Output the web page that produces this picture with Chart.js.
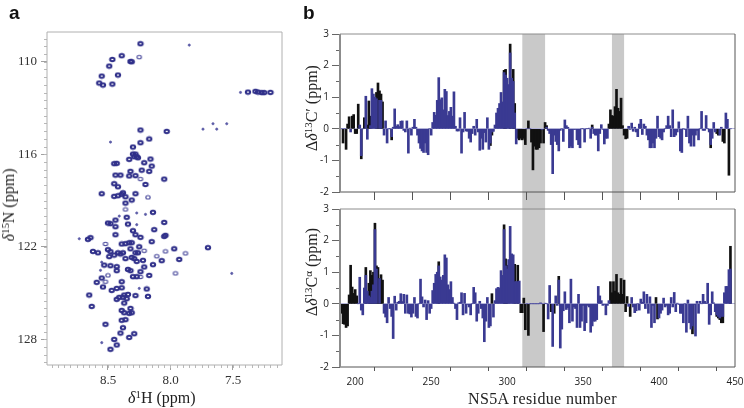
<!DOCTYPE html>
<html>
<head>
<meta charset="utf-8">
<script src="https://cdn.jsdelivr.net/npm/chart.js@4"></script>
<style>
  html, body { margin: 0; padding: 0; background: #fff; }
  body { width: 744px; height: 408px; position: relative; overflow: hidden; }
  canvas { position: absolute; display: block; }
  .txt { position: absolute; white-space: nowrap; font-family: "Liberation Serif", serif; color: #222; font-size: 16px; line-height: 1; }
  .txt sup { font-size: 0.68em; line-height: 0; vertical-align: 0.45em; }
  .rot { transform: translate(-50%, -50%) rotate(-90deg); }
  .letter { font-family: "Liberation Sans", sans-serif; font-weight: bold; font-size: 19px; color: #111; }
</style>
</head>
<body>
<canvas id="nmr" width="300" height="408" style="left:0;top:0"></canvas>
<canvas id="coChart" width="444" height="200" style="left:300px;top:0"></canvas>
<canvas id="caChart" width="444" height="208" style="left:300px;top:200px"></canvas>

<div class="txt letter" style="left:9px;top:3px">a</div>
<div class="txt letter" style="left:303px;top:3px">b</div>
<div class="txt rot" style="left:9px;top:205px"><i>δ</i><sup>15</sup>N (ppm)</div>
<div class="txt" style="left:128px;top:390px"><i>δ</i><sup>1</sup>H (ppm)</div>
<div class="txt rot" style="left:312px;top:108px">Δ<i>δ</i><sup>13</sup>C′ (ppm)</div>
<div class="txt rot" style="left:312px;top:272px">Δ<i>δ</i><sup>13</sup>C<sup>α</sup> (ppm)</div>
<div class="txt" style="left:468px;top:391px;letter-spacing:0.35px">NS5A residue number</div>

<script>
// spectrum peaks, 1H and 15N ppm
const strongH = [8.24,8.39,8.465,8.49,8.32,8.31,8.55,8.42,8.57,8.54,8.465,7.38,7.32,7.3,7.27,7.25,7.2,8.24,8.03,8.17,8.24,8.3,8.3,8.28,8.27,8.29,8.33,8.26,8.16,8.21,8.45,8.43,8.15,8.23,8.32,8.17,8.44,8.4,8.33,8.28,8.05,8.45,8.42,8.2,8.55,8.45,8.42,8.39,8.38,8.36,8.28,8.31,8.36,8.35,8.14,8.44,8.5,8.48,8.34,8.05,8.44,8.3,8.13,8.44,8.28,8.24,8.04,8.05,8.66,8.64,8.15,8.39,8.36,8.33,8.31,8.25,8.32,7.7,7.97,8.5,8.48,8.62,8.58,8.28,8.26,8.42,8.38,8.4,8.45,8.49,8.36,8.31,8.29,8.27,8.22,7.93,8.07,8.14,8.21,8.53,8.48,8.43,8.43,8.34,8.32,8.24,8.17,8.55,8.59,8.3,8.27,8.39,8.54,8.43,8.39,8.47,8.19,8.65,8.28,8.18,8.43,8.41,8.37,8.34,8.38,8.35,8.37,8.63,8.39,8.37,8.32,8.33,8.31,8.39,8.36,8.52,8.38,8.4,8.29,8.33,8.45,8.43,8.48];
const strongN = [108.83,109.61,109.85,110.28,109.98,110,110.93,110.86,111.38,111.51,111.45,111.97,111.92,111.97,112,112,111.99,114.43,114.52,115.01,115.25,115.53,115.99,115.99,116.16,116.16,116.33,116.23,116.31,116.55,116.61,116.59,116.77,117.03,117.11,117.11,117.35,117.35,117.41,117.39,117.61,117.91,118.11,117.96,118.56,118.73,118.69,118.6,118.5,118.76,118.56,118.97,119.17,120.09,119.77,120.27,120.46,120.5,120.53,120.42,120.7,120.96,120.89,121.22,121.22,121.39,121.26,121.33,121.52,121.41,121.67,121.82,121.8,121.74,121.74,122,122.13,122.06,122.13,122.19,122.32,122.3,122.39,122.39,122.39,122.39,122.39,122.47,122.54,122.64,122.77,122.69,122.77,122.95,122.88,122.82,122.9,123.16,123.31,123.19,123.23,123.29,123.55,123.47,123.55,123.62,123.86,124.03,124.31,123.94,123.94,124.27,124.61,124.7,124.66,124.83,124.74,125.13,125.17,125.22,125.41,125.28,125.13,125.09,125.28,125.37,125.65,125.87,126.13,126.28,126,126.32,126.28,126.77,126.73,127.03,127.25,127.6,127.64,127.88,128.01,128.37,128.65];
const openH = [8.25,8.24,8.18,8.36,8.52,8.04,8.21,8.24,7.96,8.5,8.52,7.88,8.11];
const openN = [109.7,117.61,118.8,119.58,121.82,122.3,122.26,123.96,123.73,123.86,124.27,122.43,122.62];
const weakH = [7.85,7.44,7.74,7.66,7.63,7.55,8.48,8.27,8.2,8.41,8.27,8.73,8.55,8.56,7.51,8.25,8.55];
const weakN = [108.92,111.99,114.37,114.02,114.37,114.02,115.21,119.81,119.9,120.01,120.57,121.48,123,123.53,123.73,124.7,128.22];
const nmrXLabels = [8.5, 8.0, 7.5];
const nmrYLabels = [110, 116, 122, 128];

// chemical shift changes, one value per residue from firstResidue on
const firstResidue = 191;
const coBlue = [
  0,null,0,null,null,null,-0.1,null,null,null,
  null,null,0.12,-0.85,0,null,1.03,-0.33,null,0.1,
  1.27,1.1,1.0,0.95,null,0.9,0.9,null,-0.2,0.25,
  -0.45,0,0,-0.25,0.05,0.63,0.08,0.13,0.07,0.24,
  0.25,-0.05,-0.1,0.25,-0.77,0.02,-0.2,0.05,0.3,0.05,
  -0.2,-0.45,-0.62,-0.7,-0.75,-0.45,-0.75,-0.82,0,-0.2,
  0.2,0.52,0.43,0.9,1.62,0.92,0.98,0.6,1.25,1.18,
  0.42,0.55,0.68,0.4,1.17,0.08,-0.07,-0.07,0.35,-0.77,
  -0.1,0.52,-0.07,-0.08,-0.3,-0.42,-0.15,0.08,-0.2,0.3,
  -0.1,-0.68,-0.3,-0.65,-0.12,-0.42,0.35,-0.65,-0.45,-0.1,
  -0.08,0.12,0.5,0.65,0.8,1.15,0.85,1.78,1.7,1.6,
  1.4,2.4,1.6,1.5,0.5,-0.48,null,null,null,null,
  null,null,0,null,0,null,null,null,null,null,
  null,null,-0.02,null,null,0.05,-0.05,-0.15,-0.5,-1.42,
  -0.2,-0.4,-0.5,-0.7,-0.05,0,-0.4,0.28,0.1,0.05,
  -0.6,-0.55,-0.6,-0.02,-0.02,-0.35,-0.5,-0.6,0,0,
  -0.42,0,0,0.02,-0.3,0.05,-0.15,-0.2,-0.2,-0.7,
  -0.15,0.13,-0.02,-0.48,-0.3,-0.3,null,null,null,null,
  null,null,null,null,null,null,null,null,null,0.08,
  -0.02,0.18,-0.08,0.05,-0.1,-0.25,0.15,0.3,-0.18,0.15,
  0.08,-0.2,-0.35,-0.6,-0.6,-0.45,-0.6,-0.3,0.4,-0.25,
  -0.3,-0.35,-0.1,0,0.1,0.4,0.1,-0.25,0.6,-0.25,
  -0.2,-0.1,0.22,-0.7,-0.75,0,-0.02,-0.25,0.4,-0.45,
  -0.55,-0.2,-0.55,-0.2,-0.05,-0.35,0,0.55,-0.05,-0.05,
  0.42,0,-0.1,-0.5,-0.3,0.2,-0.1,null,null,-0.2,
  0.05,null,null,0.5,0.3,null,0
];
const coBlackResidues = [192,194,195,196,198,199,200,201,202,204,206,208,209,210,214,215,216,217,218,224,289,290,298,299,302,304,305,307,308,309,310,311,312,314,316,317,318,319,320,321,322,324,325,326,356,367,368,369,370,371,372,373,374,375,376,377,378,379,434,438,439,442,443,446];
const coBlackValues = [-0.45,-0.65,0.15,0.38,0.4,0.45,-0.15,-0.15,0.78,-0.95,0.35,0.12,0.88,0.4,1.15,1.45,1.2,1.1,0.85,-0.35,-0.53,-0.2,1.85,1.88,2.68,1.88,0.8,-0.3,-0.35,-0.3,-0.35,-0.3,-0.5,0.25,-0.42,-1.3,-0.55,-0.65,-0.65,-0.6,-0.45,-0.45,0.2,0.1,0.12,0.15,0.6,0.42,0.4,0.7,1.25,0.65,0.55,0.97,0.1,-0.2,-0.32,-0.3,-0.6,-0.15,-0.2,-0.4,-0.45,-1.47];

const caBlue = [
  null,null,null,null,null,null,null,null,null,null,
  null,0,0.84,-0.2,-0.35,0.5,0.9,0.4,0.25,0.2,
  0.4,0.6,2.35,1.1,null,0.8,null,null,-0.3,-0.42,
  -0.6,0.2,-0.15,-0.4,-1.1,0.24,-0.2,0.05,0.08,0.32,
  0.07,0.3,-0.3,0.28,-0.3,-0.32,-0.42,-0.3,0.2,-0.4,
  -0.45,0,0.78,0.22,-0.1,0.12,-0.5,0.1,-0.3,-0.15,
  0.42,0.65,0.93,1.0,1.2,0.85,0.75,0.9,1.55,1.45,
  0.6,0.45,0.7,0.2,0.02,-0.15,-0.5,0.03,0.05,0.35,
  -0.35,0.33,-0.3,-0.02,-0.1,-0.35,0,0.52,0.35,-0.55,
  -0.3,0.08,-0.15,-0.45,-1.2,-0.55,0.2,-0.75,-0.7,null,
  -0.42,0.1,0.48,0.52,0.5,1.05,0.9,2.35,1.2,1.1,
  1.4,2.45,1.58,1.55,0.7,0.7,0.7,0.72,null,null,
  null,null,0,null,0,0,0,0,0,0,
  0,0.03,0,null,0.02,0,-0.48,0.58,null,-1.35,
  null,0.25,-0.05,0.75,-1.4,-0.8,-0.22,0.38,-0.18,-0.12,
  -0.6,0.78,-0.55,-0.1,-0.15,-0.75,0.3,-0.75,-0.55,-0.05,
  -0.85,-0.6,-0.05,-0.1,-0.9,-0.7,-0.55,-0.55,-0.5,0.55,
  0.25,0.1,-0.05,-0.02,-0.35,-0.05,0.1,null,null,null,
  null,null,null,null,null,null,null,null,null,-0.08,
  null,0.2,-0.1,-0.28,-0.22,0,-0.2,0.15,0.05,0.38,
  -0.15,0.3,-0.3,0.22,-0.75,-0.05,-0.6,null,null,-0.45,
  -0.3,-0.2,0.18,-0.1,-0.05,-0.35,-0.3,0.2,-0.1,0.36,
  -0.25,0.02,-0.02,-0.3,-0.3,-0.6,0,-0.9,0.12,-0.6,
  -0.8,-0.7,-0.02,-1.02,0.08,-0.3,0.08,0,0.3,0.08,
  0.02,0.65,-0.65,-0.35,0.38,0.03,-0.25,-0.35,-0.4,-0.45,
  -0.4,-0.4,0.35,0.55,0.55,1.08,1.1
];
const caBlackResidues = [191,192,193,194,195,196,197,198,199,200,201,207,209,210,211,212,213,214,215,216,217,218,255,290,298,299,300,305,307,309,310,311,312,314,324,329,331,334,368,369,370,371,372,373,374,375,376,377,378,379,381,398,399,422,438,439,440,441,442,447];
const caBlackValues = [-0.3,-0.63,-0.65,-0.75,-0.7,0.28,1.22,0.53,0.33,0.45,0.25,1.15,0.65,1.05,0.9,1.0,2.55,1.2,1.15,0.8,0.92,0.75,1.33,0.32,2.5,1.42,1.22,1.25,1.22,-0.28,-0.28,0.18,-0.82,-1.0,-0.88,-0.25,-0.3,0.87,0.7,0.35,0.7,0.4,0.93,0.35,0.3,0.8,0.3,0.75,-0.25,0.23,-0.4,0.2,-0.48,-0.95,-0.4,-0.45,-0.5,-0.6,-0.6,1.82];

const residueTicks = [200, 225, 250, 275, 300, 325, 350, 375, 400, 425, 450];
const shiftTicks = [-2, -1, 0, 1, 2, 3];
const shiftMinorTicks = [-1.5, -0.5, 0.5, 1.5, 2.5];
const greyBands = [[310, 325], [369, 377]];

const navy = '#3a3a92';

// finer ticks around the numbered ones
var nmrXMinor = [], nmrYMinor = [];
for (var i = 143; i <= 179; i++) nmrXMinor.push(i / 20);
for (var j = 217; j <= 259; j++) nmrYMinor.push(j / 2);

// contour blob, a bit wider than tall like the ones in the spectrum
function ringSprite(w, h, rx, ry, lw, col) {
  var s = document.createElement('canvas');
  s.width = w; s.height = h;
  var c = s.getContext('2d');
  c.strokeStyle = col; c.lineWidth = lw;
  c.beginPath(); c.ellipse(w / 2, h / 2, rx, ry, 0, 0, Math.PI * 2); c.stroke();
  return s;
}

function fixedWidth(w) {
  return function (scale) { scale.width = w; scale.paddingTop = 0; scale.paddingBottom = 0; };
}
function fixedHeight(h) {
  return function (scale) { scale.height = h; scale.paddingLeft = 0; scale.paddingRight = 0; };
}
function explicitTicks(list) {
  return function (scale) { scale.ticks = list.map(function (v) { return { value: v }; }); };
}

const panelPlugin = {
  id: 'panel',
  beforeDraw(chart, args, opts) {
    if (!opts.bands) return;
    const a = chart.chartArea, c = chart.ctx, x = chart.scales.x;
    c.save();
    c.fillStyle = '#c9c9c9';
    opts.bands.forEach(function (b) {
      var x0 = x.getPixelForValue(b[0]), x1 = x.getPixelForValue(b[1]);
      var top = opts.bandToCanvasBottom ? a.top : 0;
      var bottom = opts.bandToCanvasBottom ? chart.height : a.bottom;
      c.fillRect(x0, top, x1 - x0, bottom - top);
    });
    c.restore();
  },
  afterDraw(chart, args, opts) {
    const a = chart.chartArea, c = chart.ctx;
    c.save();
    c.lineWidth = 1;
    c.strokeStyle = opts.minorColor;
    (opts.xMinor || []).forEach(function (v) {
      var px = Math.round(chart.scales.x.getPixelForValue(v)) + 0.5;
      c.beginPath(); c.moveTo(px, a.bottom); c.lineTo(px, a.bottom + opts.xMinorLength); c.stroke();
    });
    (opts.yMinor || []).forEach(function (v) {
      var py = Math.round(chart.scales.y.getPixelForValue(v)) + 0.5;
      c.beginPath(); c.moveTo(a.left, py); c.lineTo(a.left - opts.yMinorLength, py); c.stroke();
    });
    // frame, each side has its own grey in the figure
    function side(col, w, x0, y0, x1, y1) {
      c.strokeStyle = col; c.lineWidth = w;
      c.beginPath(); c.moveTo(x0, y0); c.lineTo(x1, y1); c.stroke();
    }
    side(opts.frame[0], 1, a.left, a.top, a.right, a.top);
    side(opts.frame[1], 1, a.right, a.top, a.right, a.bottom);
    side(opts.frame[2], 1, a.left, a.bottom, a.right, a.bottom);
    side(opts.frame[3], opts.leftWidth || 1, a.left, a.top, a.left, a.bottom);
    c.restore();
  }
};
Chart.register(panelPlugin);

function pts(xs, ys) {
  return xs.map(function (v, k) { return { x: v, y: ys[k] }; });
}

// 15N HSQC spectrum
new Chart(document.getElementById('nmr'), {
  type: 'scatter',
  data: {
    datasets: [
      { data: pts(strongH, strongN), pointRadius: 3, pointStyle: ringSprite(8, 7, 2.2, 1.8, 2, '#30308a') },
      { data: pts(openH, openN), pointRadius: 3, pointStyle: ringSprite(8, 6, 2.2, 1.7, 1.1, '#4a4a9c') },
      { data: pts(weakH, weakN), pointRadius: 1.1, borderWidth: 0.8, borderColor: '#5a5aa6', backgroundColor: '#5a5aa6' }
    ]
  },
  options: {
    responsive: false,
    animation: false,
    events: [],
    layout: { padding: { left: 0, top: 32, right: 18, bottom: 0 } },
    plugins: {
      legend: { display: false },
      tooltip: { enabled: false },
      panel: {
        xMinor: nmrXMinor, yMinor: nmrYMinor, xMinorLength: 3, yMinorLength: 3, minorColor: '#b8b8b8',
        frame: ['#b0b0b0', '#b0b0b0', '#b0b0b0', '#b0b0b0']
      }
    },
    scales: {
      x: {
        type: 'linear', reverse: true, min: 7.108, max: 8.988,
        afterBuildTicks: explicitTicks(nmrXLabels),
        afterFit: fixedHeight(43),
        border: { display: false },
        grid: { drawOnChartArea: false, tickLength: 5, tickColor: '#a0a0a0' },
        ticks: { autoSkip: false, maxRotation: 0, padding: 3, color: '#333', font: { family: 'Liberation Serif', size: 13 }, callback: function (v) { return v.toFixed(1); } }
      },
      y: {
        type: 'linear', reverse: true, min: 108.07, max: 129.67,
        afterBuildTicks: explicitTicks(nmrYLabels),
        afterFit: fixedWidth(47),
        border: { display: false },
        grid: { drawOnChartArea: false, tickLength: 6, tickColor: '#a0a0a0' },
        ticks: { autoSkip: false, padding: 4, color: '#333', font: { family: 'Liberation Serif', size: 13 } }
      }
    }
  }
});

function shiftChart(canvasId, blue, blackRes, blackVal, opt) {
  var blueData = [];
  blue.forEach(function (v, k) { if (v !== null) blueData.push({ x: firstResidue + k, y: v }); });
  return new Chart(document.getElementById(canvasId), {
    type: 'bar',
    data: {
      datasets: [
        { data: blueData, backgroundColor: navy, barThickness: 2, grouped: false },
        { data: pts(blackRes, blackVal), backgroundColor: '#111', barThickness: 2, grouped: false }
      ]
    },
    options: {
      responsive: false,
      animation: false,
      events: [],
      layout: { padding: { left: 0, top: opt.top, right: 9, bottom: 0 } },
      plugins: {
        legend: { display: false },
        tooltip: { enabled: false },
        panel: {
          bands: greyBands, bandToCanvasBottom: opt.bandDown,
          yMinor: shiftMinorTicks, yMinorLength: 4, minorColor: '#666',
          frame: ['#8c8c8c', '#555', '#555', '#8c8c8c'], leftWidth: 2
        }
      },
      scales: {
        x: {
          type: 'linear', min: 190, max: 450, offset: false,
          afterBuildTicks: explicitTicks(residueTicks),
          afterFit: fixedHeight(opt.axisHeight),
          border: { display: false },
          grid: { drawOnChartArea: false, tickLength: opt.tick, tickColor: '#555' },
          ticks: {
            display: opt.labels, autoSkip: false, maxRotation: 0, padding: 5, color: '#222',
            font: { family: 'Open Sans', size: 10 },
            callback: function (v) { return v % 50 === 0 ? String(v) : ''; }
          }
        },
        y: {
          type: 'linear', min: -2, max: 3,
          afterBuildTicks: explicitTicks(shiftTicks),
          afterFit: fixedWidth(40),
          border: { display: false },
          grid: {
            tickLength: 8, tickColor: '#666',
            color: function (c) { return c.tick && c.tick.value === 0 ? '#b4b4d8' : 'rgba(0,0,0,0)'; }
          },
          ticks: { autoSkip: false, padding: 3, color: '#222', font: { family: 'Open Sans', size: 10 } }
        }
      }
    }
  });
}

shiftChart('coChart', coBlue, coBlackResidues, coBlackValues, { top: 34, axisHeight: 8, tick: 8, labels: false, bandDown: true });
shiftChart('caChart', caBlue, caBlackResidues, caBlackValues, { top: 9, axisHeight: 41, tick: 4, labels: true, bandDown: false });
</script>
</body>
</html>
